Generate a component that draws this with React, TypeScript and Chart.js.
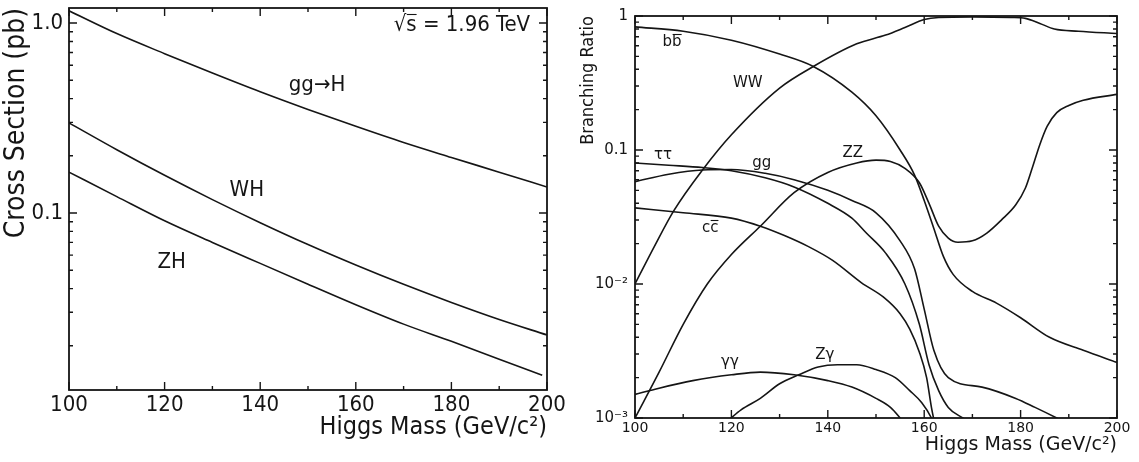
import React, { useEffect, useRef } from 'react';
import { Chart, registerables } from 'chart.js';

Chart.register(...registerables);

// ---------- data: left panel (cross sections, pb) ----------
const csMass = [100, 110, 120, 130, 140, 150, 160, 170, 180, 190, 200];
const ggHXs = [1.16, 0.88, 0.69, 0.546, 0.435, 0.351, 0.286, 0.235, 0.196, 0.164, 0.137];
const whXs = [0.298, 0.2153, 0.1579, 0.1176, 0.0889, 0.0682, 0.0532, 0.0421, 0.0338, 0.0275, 0.0228];
const zhMass = [100, 110, 120, 130, 140, 150, 160, 170, 180, 190, 199];
const zhXs = [0.164, 0.122, 0.091, 0.07, 0.0543, 0.0422, 0.0329, 0.026, 0.0211, 0.017, 0.014];

// ---------- data: right panel (branching ratios) ----------
const bbMass = [100, 110, 120, 130, 137, 145, 150, 155, 158, 160, 162, 164, 166, 170, 175, 180, 186, 193, 200];
const bbBR = [0.83, 0.77, 0.66, 0.52, 0.42, 0.27, 0.18, 0.1, 0.065, 0.042, 0.026, 0.016, 0.0118, 0.0088, 0.0072, 0.0056, 0.004, 0.0032, 0.0026];
const wwMass = [100, 104, 108, 114, 120, 130, 137, 146, 152, 156, 160, 163, 170, 178, 181, 184, 187, 192, 200];
const wwBR = [0.01, 0.019, 0.035, 0.071, 0.13, 0.29, 0.42, 0.62, 0.72, 0.82, 0.94, 0.975, 0.985, 0.975, 0.96, 0.88, 0.8, 0.77, 0.74];
const zzMass = [100, 105, 110, 115, 120, 126, 133, 140, 146, 150, 153, 156, 159, 161, 163, 165, 167, 170, 173, 176, 179, 181, 182.5, 184, 185.5, 187.5, 190, 193, 200];
const zzBR = [0.001, 0.0022, 0.005, 0.01, 0.0166, 0.027, 0.048, 0.068, 0.08, 0.084, 0.082, 0.073, 0.057, 0.04, 0.027, 0.022, 0.0205, 0.021, 0.024, 0.03, 0.039, 0.052, 0.075, 0.11, 0.15, 0.19, 0.215, 0.235, 0.26];
const ggMass = [100, 107, 114, 120, 127, 133, 140, 145, 150, 155, 158, 160, 162, 165, 172, 179, 183, 187.5, 190];
const ggBR = [0.058, 0.066, 0.071, 0.0715, 0.067, 0.06, 0.05, 0.042, 0.034, 0.021, 0.013, 0.0065, 0.0032, 0.002, 0.0017, 0.0014, 0.0012, 0.001, 0.0009];
const ttMass = [100, 107, 114, 120, 127, 133, 140, 145, 148, 152, 156, 159, 161, 163, 165, 168, 170];
const ttBR = [0.08, 0.077, 0.074, 0.07, 0.062, 0.053, 0.04, 0.031, 0.024, 0.017, 0.01, 0.005, 0.0025, 0.0016, 0.0012, 0.001, 0.0009];
const ccMass = [100, 110, 120, 126, 131, 136, 141, 147, 151.5, 155, 157, 159, 160.5, 161.5, 162.5];
const ccBR = [0.037, 0.034, 0.031, 0.027, 0.023, 0.019, 0.015, 0.0102, 0.008, 0.006, 0.0046, 0.0031, 0.002, 0.0012, 0.0008];
const aaMass = [100, 105, 112, 120, 126, 133, 140, 145, 150, 153, 155, 156];
const aaBR = [0.0015, 0.00167, 0.0019, 0.0021, 0.0022, 0.0021, 0.0019, 0.0017, 0.0014, 0.0012, 0.001, 0.0009];
const zaMass = [119.5, 122, 126, 130, 134, 138, 142, 146, 150, 154, 157, 159.5, 161.5, 162];
const zaBR = [0.00097, 0.00115, 0.0014, 0.0018, 0.0021, 0.0024, 0.0025, 0.0025, 0.0023, 0.002, 0.0016, 0.0013, 0.001, 0.0009];

// ---------- ticks ----------
const massTicks = [100, 110, 120, 130, 140, 150, 160, 170, 180, 190, 200];
const csYTicks = [0.02, 0.03, 0.04, 0.05, 0.06, 0.07, 0.08, 0.09, 0.1, 0.2, 0.3, 0.4, 0.5, 0.6, 0.7, 0.8, 0.9, 1.0];
const csYLabelValues = [0.1, 1.0];
const csYLabelTexts = ['0.1', '1.0'];
const brYTicks = [0.001, 0.002, 0.003, 0.004, 0.005, 0.006, 0.007, 0.008, 0.009, 0.01, 0.02, 0.03, 0.04, 0.05, 0.06, 0.07, 0.08, 0.09, 0.1, 0.2, 0.3, 0.4, 0.5, 0.6, 0.7, 0.8, 0.9, 1];
const brYLabelValues = [0.001, 0.01, 0.1, 1];
const brYLabelTexts = ['10⁻³', '10⁻²', '0.1', '1'];

// ---------- in-plot labels (data coordinates); bar = [from, to) characters drawn with an overline ----------
const csNotes = [
  { text: 'gg→H', mass: 151.9, value: 0.47 },
  { text: 'WH', mass: 137.2, value: 0.132 },
  { text: 'ZH', mass: 121.5, value: 0.0552 },
  { text: '√s = 1.96 TeV', mass: 182.2, value: 0.97, bar: [1, 2] },
];
const brNotes = [
  { text: 'bb', mass: 107.7, value: 0.64, bar: [1, 2] },
  { text: 'WW', mass: 123.4, value: 0.316 },
  { text: 'ττ', mass: 105.8, value: 0.092 },
  { text: 'gg', mass: 126.3, value: 0.08 },
  { text: 'ZZ', mass: 145.2, value: 0.095 },
  { text: 'cc', mass: 115.6, value: 0.0262, bar: [1, 2] },
  { text: 'γγ', mass: 119.7, value: 0.00262 },
  { text: 'Zγ', mass: 139.4, value: 0.00295 },
];

const INK = '#151515';
const NARROW = "'Liberation Sans Narrow', 'DejaVu Sans Condensed', 'Liberation Sans', sans-serif";
const WIDE = "'DejaVu Sans', 'Verdana', sans-serif";

function series(mass: number[], vals: number[]) {
  return {
    data: mass.map((m, i) => ({ x: m, y: vals[i] })),
    borderColor: INK,
    borderWidth: 1.6,
    pointRadius: 0,
    fill: false,
    cubicInterpolationMode: 'monotone' as const,
  };
}

function framePlugin(isMajorX: (v: number) => boolean, isMajorY: (v: number) => boolean) {
  return {
    id: 'frameTicks',
    afterDatasetsDraw(chart: any) {
      const { ctx, chartArea } = chart;
      const { left, right, top, bottom } = chartArea;
      const xs = chart.scales.x;
      const ys = chart.scales.y;
      ctx.save();
      ctx.strokeStyle = INK;
      ctx.lineWidth = 1.4;
      ctx.beginPath();
      xs.ticks.forEach((t: any) => {
        const px = xs.getPixelForValue(t.value);
        const len = isMajorX(t.value) ? 8 : 4;
        ctx.moveTo(px, bottom);
        ctx.lineTo(px, bottom - len);
        ctx.moveTo(px, top);
        ctx.lineTo(px, top + len);
      });
      ys.ticks.forEach((t: any) => {
        const py = ys.getPixelForValue(t.value);
        const len = isMajorY(t.value) ? 8 : 4;
        ctx.moveTo(left, py);
        ctx.lineTo(left + len, py);
        ctx.moveTo(right, py);
        ctx.lineTo(right - len, py);
      });
      ctx.stroke();
      ctx.lineWidth = 1.8;
      ctx.strokeRect(left, top, right - left, bottom - top);
      ctx.restore();
    },
  };
}

function notesPlugin(notes: { text: string; mass: number; value: number; bar?: number[] }[], size: number, family: string) {
  return {
    id: 'notes',
    afterDatasetsDraw(chart: any) {
      const { ctx } = chart;
      const xs = chart.scales.x;
      const ys = chart.scales.y;
      ctx.save();
      ctx.fillStyle = INK;
      ctx.strokeStyle = INK;
      ctx.lineWidth = 1.1;
      ctx.font = `${size}px ${family}`;
      ctx.textAlign = 'left';
      ctx.textBaseline = 'middle';
      notes.forEach((n) => {
        const cx = xs.getPixelForValue(n.mass);
        const cy = ys.getPixelForValue(n.value);
        const w = ctx.measureText(n.text).width;
        const x0 = cx - w / 2;
        ctx.fillText(n.text, x0, cy);
        if (n.bar) {
          const a = x0 + ctx.measureText(n.text.slice(0, n.bar[0])).width;
          const b = x0 + ctx.measureText(n.text.slice(0, n.bar[1])).width;
          const yb = Math.round(cy - size * 0.52) + 0.5;
          ctx.beginPath();
          ctx.moveTo(a + 0.5, yb);
          ctx.lineTo(b, yb);
          ctx.stroke();
        }
      });
      ctx.restore();
    },
  };
}

function labelFor(values: number[], texts: string[]) {
  return (v: any) => {
    const i = values.findIndex((x) => Math.abs(x - Number(v)) < 1e-9);
    return i >= 0 ? texts[i] : '';
  };
}

function fitX(height: number) {
  return (s: any) => {
    s.height = height;
    s.paddingLeft = 0;
    s.paddingRight = 0;
  };
}

function fitY(width: number) {
  return (s: any) => {
    s.width = width;
    s.paddingTop = 0;
    s.paddingBottom = 0;
  };
}

function makeCrossSection(canvas: HTMLCanvasElement) {
  return new Chart(canvas, {
    type: 'line',
    data: { datasets: [series(csMass, ggHXs), series(csMass, whXs), series(zhMass, zhXs)] as any },
    options: {
      animation: false,
      responsive: false,
      maintainAspectRatio: false,
      layout: { padding: { left: 0, top: 8, right: 28, bottom: 0 } },
      plugins: { legend: { display: false }, tooltip: { enabled: false } },
      scales: {
        x: {
          type: 'linear',
          min: 100,
          max: 200,
          grid: { display: false, drawTicks: false },
          border: { display: false },
          afterBuildTicks: (s: any) => {
            s.ticks = massTicks.map((v) => ({ value: v }));
          },
          afterFit: fitX(72),
          ticks: {
            autoSkip: false,
            maxRotation: 0,
            padding: 2,
            color: INK,
            font: { family: NARROW, size: 22 },
            callback: (v: any) => (Number(v) % 20 === 0 ? String(v) : ''),
          },
          title: {
            display: true,
            text: 'Higgs Mass (GeV/c²)',
            align: 'end',
            color: INK,
            font: { family: NARROW, size: 25 },
            padding: { top: 0, bottom: 20 },
          },
        },
        y: {
          type: 'logarithmic',
          min: 0.0117,
          max: 1.2,
          grid: { display: false, drawTicks: false },
          border: { display: false },
          afterBuildTicks: (s: any) => {
            s.ticks = csYTicks.map((v) => ({ value: v }));
          },
          afterFit: fitY(69),
          ticks: {
            autoSkip: false,
            padding: 6,
            color: INK,
            font: { family: NARROW, size: 22 },
            callback: labelFor(csYLabelValues, csYLabelTexts),
          },
          title: {
            display: true,
            text: 'Cross Section (pb)',
            align: 'end',
            color: INK,
            font: { family: NARROW, size: 28 },
            padding: { top: 0, bottom: 0 },
          },
        },
      },
    } as any,
    plugins: [
      framePlugin((v) => v % 20 === 0, (v) => csYLabelValues.some((x) => Math.abs(x - v) < 1e-9)),
      notesPlugin(csNotes, 22, NARROW),
    ],
  });
}

function makeBranching(canvas: HTMLCanvasElement) {
  return new Chart(canvas, {
    type: 'line',
    data: {
      datasets: [
        series(bbMass, bbBR),
        series(wwMass, wwBR),
        series(zzMass, zzBR),
        series(ggMass, ggBR),
        series(ttMass, ttBR),
        series(ccMass, ccBR),
        series(aaMass, aaBR),
        series(zaMass, zaBR),
      ] as any,
    },
    options: {
      animation: false,
      responsive: false,
      maintainAspectRatio: false,
      layout: { padding: { left: 0, top: 16, right: 22, bottom: 0 } },
      plugins: { legend: { display: false }, tooltip: { enabled: false } },
      scales: {
        x: {
          type: 'linear',
          min: 100,
          max: 200,
          grid: { display: false, drawTicks: false },
          border: { display: false },
          afterBuildTicks: (s: any) => {
            s.ticks = massTicks.map((v) => ({ value: v }));
          },
          afterFit: fitX(44),
          ticks: {
            autoSkip: false,
            maxRotation: 0,
            padding: 2,
            color: INK,
            font: { family: WIDE, size: 14 },
            callback: (v: any) => (Number(v) % 20 === 0 ? String(v) : ''),
          },
          title: {
            display: true,
            text: 'Higgs Mass (GeV/c²)',
            align: 'end',
            color: INK,
            font: { family: WIDE, size: 19 },
            padding: { top: 0, bottom: 6 },
          },
        },
        y: {
          type: 'logarithmic',
          min: 0.001,
          max: 1,
          grid: { display: false, drawTicks: false },
          border: { display: false },
          afterBuildTicks: (s: any) => {
            s.ticks = brYTicks.map((v) => ({ value: v }));
          },
          afterFit: fitY(60),
          ticks: {
            autoSkip: false,
            padding: 7,
            color: INK,
            font: { family: WIDE, size: 15 },
            callback: labelFor(brYLabelValues, brYLabelTexts),
          },
          title: {
            display: true,
            text: 'Branching Ratio',
            align: 'end',
            color: INK,
            font: { family: NARROW, size: 18 },
            padding: { top: 3, bottom: 0 },
          },
        },
      },
    } as any,
    plugins: [
      framePlugin((v) => v % 20 === 0, (v) => brYLabelValues.some((x) => Math.abs(x - v) < 1e-9)),
      notesPlugin(brNotes, 15, WIDE),
    ],
  });
}

export default function App() {
  const leftRef = useRef<HTMLCanvasElement>(null);
  const rightRef = useRef<HTMLCanvasElement>(null);

  useEffect(() => {
    const a = leftRef.current ? makeCrossSection(leftRef.current) : null;
    const b = rightRef.current ? makeBranching(rightRef.current) : null;
    return () => {
      if (a) a.destroy();
      if (b) b.destroy();
    };
  }, []);

  return (
    <div style={{ position: 'absolute', left: 0, top: 0, width: 1139, height: 462, background: '#fff' }}>
      <canvas
        ref={leftRef}
        width={575}
        height={462}
        style={{ position: 'absolute', left: 0, top: 0, width: 575, height: 462, display: 'block' }}
      />
      <canvas
        ref={rightRef}
        width={564}
        height={462}
        style={{ position: 'absolute', left: 575, top: 0, width: 564, height: 462, display: 'block' }}
      />
    </div>
  );
}
